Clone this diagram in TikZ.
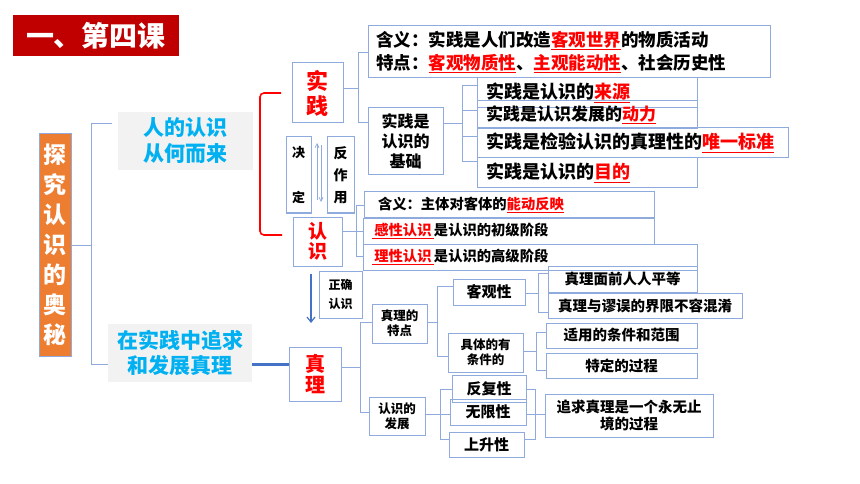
\documentclass[tikz,border=0pt]{standalone}
\usepackage{fontspec}
\setmainfont{Noto Sans CJK SC}
\usetikzlibrary{arrows.meta}
\definecolor{bl}{HTML}{8FAADC}
\definecolor{dbl}{HTML}{4472C4}
\definecolor{cy}{HTML}{00B0F0}
\definecolor{rd}{HTML}{FF0000}
\definecolor{tr}{HTML}{C00000}
\definecolor{og}{HTML}{ED7D31}
\definecolor{gf}{HTML}{F2F2F2}
\newcommand\fz[2]{\fontsize{#1}{#2}\selectfont}
\newcommand\rr[1]{\textcolor{rd}{\underline{#1}}}
\tikzset{
  box/.style={draw=bl, line width=1pt, inner sep=0pt, text=black},
  conn/.style={draw=bl, line width=1pt},
  lbox/.style={box, align=left, inner xsep=#1},
}
\begin{document}
\begin{tikzpicture}[x=1pt,y=-1pt]
\fill[white] (0,0) rectangle (860,484);
\useasboundingbox (0,0) rectangle (860,484);
% title and left column
\node[fill=tr, inner sep=0pt, minimum width=166, minimum height=41, text=white, font=\bfseries\fz{28}{30}] (title) at (96,35.5) {一、第四课};
\node[box, fill=og, minimum width=32, minimum height=222, text=white, align=center, font=\bfseries\fz{23}{30}] (orange) at (55,245) {探\\究\\认\\识\\的\\奥\\秘};
\node[fill=gf, inner sep=0pt, minimum width=135, minimum height=58, text=cy, align=center, font=\bfseries\fz{21}{26}] (ren) at (185.5,141) {人的认识\\从何而来};
\node[fill=gf, inner sep=0pt, minimum width=144, minimum height=58, text=cy, align=center, font=\bfseries\fz{21}{25}] (zai) at (180,353) {在实践中追求\\和发展真理};
% practice / cognition
\node[box, minimum width=51, minimum height=60, text=rd, align=center, font=\bfseries\fz{22}{25}] (shijian) at (317.5,93) {实\\践};
\node[box, minimum width=25, minimum height=76, align=center, font=\bfseries\fz{13}{45}] (jue) at (298.5,175) {决\\定};
\node[box, minimum width=27, minimum height=76, align=center, font=\bfseries\fz{14}{22}] (fan) at (340.5,175) {反\\作\\用};
\node[box, minimum width=49, minimum height=49, text=rd, align=center, font=\bfseries\fz{19}{20}] (renshi) at (317.5,241.5) {认\\识};
\node[lbox=8pt, minimum width=402, minimum height=52, text width=386pt, font=\bfseries\fz{17.5}{23}] (hanyi1) at (569,52) {含义：实践是人们改造\rr{客观世界}的物质活动\\特点：\rr{客观物质性}、\rr{主观能动性}、社会历史性};
\node[box, minimum width=75, minimum height=67, align=center, font=\bfseries\fz{16}{20}] (jichu) at (405.5,141.5) {实践是\\认识的\\基础};
\node[lbox=9pt, minimum width=220, minimum height=30, text width=202pt, font=\bfseries\fz{18}{20}] (laiyuan) at (587,93) {实践是认识的\rr{来源}};
\node[lbox=9pt, minimum width=220, minimum height=28, text width=202pt, font=\bfseries\fz{17}{20}] (dongli) at (587,115) {实践是认识发展的\rr{动力}};
\node[lbox=9pt, minimum width=311, minimum height=30, text width=293pt, font=\bfseries\fz{18}{20}] (biaozhun) at (632.5,143) {实践是检验认识的真理性的\rr{唯一标准}};
\node[lbox=9pt, minimum width=220, minimum height=30, text width=202pt, font=\bfseries\fz{18}{20}] (mudi) at (587,173) {实践是认识的\rr{目的}};
\node[lbox=14pt, minimum width=290, minimum height=25, text width=262pt, font=\bfseries\fz{14.3}{16}] (hanyi2) at (509,204.5) {含义：主体对客体的\rr{能动反映}};
\node[lbox=9pt, minimum width=291, minimum height=26, text width=273pt, font=\bfseries\fz{14.3}{16}] (ganxing) at (508.5,231) {\rr{\,感性认识\,}是认识的初级阶段};
\node[lbox=9pt, minimum width=334, minimum height=26, text width=316pt, font=\bfseries\fz{14.3}{16}] (lixing) at (530,257) {\rr{\,理性认识\,}是认识的高级阶段};
% truth
\node[box, minimum width=43, minimum height=47, align=center, font=\bfseries\fz{12}{19}] (zhengque) at (340.5,294.5) {正确\\认识};
\node[box, minimum width=52, minimum height=54, text=rd, align=center, font=\bfseries\fz{20}{21}] (zhenli) at (315,374) {真\\理};
\node[box, minimum width=55, minimum height=39, align=center, font=\bfseries\fz{12.5}{15}] (tedian) at (399.5,323.5) {真理的\\特点};
\node[box, minimum width=56, minimum height=38, align=center, font=\bfseries\fz{12.5}{15}] (fazhan) at (397,416) {认识的\\发展};
\node[box, minimum width=72, minimum height=26, font=\bfseries\fz{15}{17}] (keguan) at (489,292) {客观性};
\node[box, minimum width=75, minimum height=39, align=center, font=\bfseries\fz{12.5}{15}] (juti) at (485.5,352.5) {具体的有\\条件的};
\node[box, minimum width=149, minimum height=26, font=\bfseries\fz{14.5}{17}] (pingdeng) at (622.5,279) {真理面前人人平等};
\node[box, minimum width=194, minimum height=25, font=\bfseries\fz{14.5}{17}] (hunxiao) at (645,305.5) {真理与谬误的界限不容混淆};
\node[box, minimum width=151, minimum height=25, font=\bfseries\fz{14.5}{17}] (shiyong) at (621.5,335.5) {适用的条件和范围};
\node[box, minimum width=151, minimum height=25, font=\bfseries\fz{14.5}{17}] (teding) at (621.5,365.5) {特定的过程};
\node[box, minimum width=74, minimum height=27, font=\bfseries\fz{15}{17}] (fanfu) at (489,388.5) {反复性};
\node[box, minimum width=76, minimum height=26, font=\bfseries\fz{15}{17}] (wuxian) at (488,412) {无限性};
\node[box, minimum width=75, minimum height=25, font=\bfseries\fz{15}{17}] (shangsheng) at (486.5,444.5) {上升性};
\node[box, minimum width=168, minimum height=43, align=center, font=\bfseries\fz{14.5}{17}] (zhuiqiu) at (629,415.5) {追求真理是一个永无止\\境的过程};
% connectors
\draw[conn] (orange.east) -- (91,245);
\draw[conn] (112,124) -| (91,364) -- (zai.west |- 0,364);
\draw[dbl, line width=3pt] (zai.east |- 0,364) -- (zhenli.west |- 0,364);
\draw[rd, line width=1.6pt, rounded corners=4pt] (281,93) -- (260,93) -- (260,235) -- (282,235);
\draw[conn] (shijian.east |- 0,89) -- (358,89);
\draw[conn] (hanyi1.west |- 0,53) -| (358,123) -- (jichu.west |- 0,123);
\draw[conn] (jichu.east |- 0,124) -- (462,124);
\draw[conn] (laiyuan.west |- 0,86) -| (462,162) -- (mudi.west |- 0,162);
\draw[conn] (462,111) -- (dongli.west |- 0,111);
\draw[conn] (462,137) -- (biaozhun.west |- 0,137);
\draw[conn] (renshi.east |- 0,231) -- (ganxing.west |- 0,231);
\draw[conn] (hanyi2.west |- 0,206) -| (356,256) -- (lixing.west |- 0,256);
\draw[dbl, line width=1.2pt, -{Straight Barb[length=5pt,width=8pt]}] (311,274) -- (311,323);
\draw[bl, line width=0.7pt, -{Straight Barb[length=4pt,width=4pt]}] (317,200) -- (317,143);
\draw[bl, line width=0.7pt, -{Straight Barb[length=4pt,width=4pt]}] (321,145) -- (321,202);
\draw[conn] (zhenli.east |- 0,367) -- (360,367);
\draw[conn] (tedian.west |- 0,322) -| (360,412) -- (fazhan.west |- 0,412);
\draw[conn] (tedian.east |- 0,322) -- (437,322);
\draw[conn] (keguan.west |- 0,286) -| (437,356) -- (juti.west |- 0,356);
\draw[conn] (keguan.east |- 0,293) -- (538,293);
\draw[conn] (pingdeng.west |- 0,273) -| (538,312) -- (hunxiao.west |- 0,312);
\draw[conn] (juti.east |- 0,351) -- (536,351);
\draw[conn] (shiyong.west |- 0,332) -| (536,370) -- (teding.west |- 0,370);
\draw[conn] (fazhan.east |- 0,414) -- (wuxian.west |- 0,414);
\draw[conn] (fanfu.west |- 0,389) -| (440,439) -- (shangsheng.west |- 0,439);
\draw[conn] (fanfu.east |- 0,389) -| (535,439) -- (shangsheng.east |- 0,439);
\draw[conn] (wuxian.east |- 0,414) -- (zhuiqiu.west |- 0,414);
\end{tikzpicture}
\end{document}
